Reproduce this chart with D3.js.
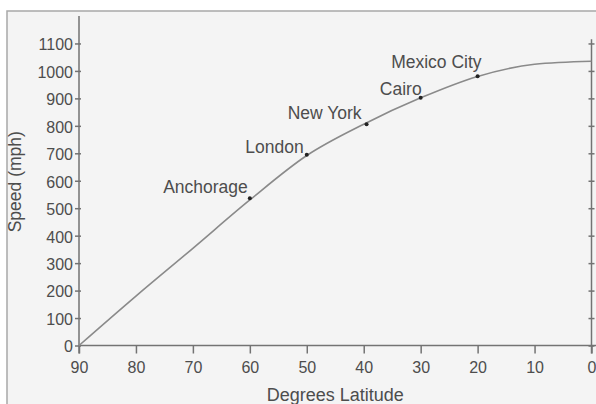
<!DOCTYPE html>
<html>
<head>
<meta charset="utf-8">
<script src="https://cdn.jsdelivr.net/npm/d3@7"></script>
<style>
  html, body { margin: 0; padding: 0; background: #ffffff; }
  svg { display: block; font-family: "Liberation Sans", Arial, sans-serif; }
</style>
</head>
<body>
<svg id="chart" width="596" height="404"></svg>
<script>
// ---- data ----
const curveLatitude = [90, 80, 70, 60, 50, 40, 30, 20, 10, 0];
const curveSpeed    = [0, 180, 354, 530, 692, 806, 902, 980, 1024, 1035];

const cityNames    = ["Anchorage", "London", "New York", "Cairo", "Mexico City"];
const cityLatitude = [60, 50, 39.5, 30, 20];
const citySpeed    = [536, 695, 806, 902, 981];

const xTickValues = [90, 80, 70, 60, 50, 40, 30, 20, 10, 0];
const yTickValues = [0, 100, 200, 300, 400, 500, 600, 700, 800, 900, 1000, 1100];

// label nudges (layout only)
const labelDx = [-2, -3, -5, 1, 4];
const labelDy = [-5, -2, -5, -3, -8];

// ---- layout ----
const svg = d3.select("#chart");
const W = 596, H = 404;
const mLeft = 79, mRight = 591.5, mTop = 16, mBottom = 345.5;
const textColor = "#4d4d4d", axisColor = "#737373";

// frame / background
svg.append("rect").attr("x", 7).attr("y", 11).attr("width", W).attr("height", H)
  .attr("fill", "#f4f4f4").attr("stroke", "#a8a8a8").attr("stroke-width", 1.5);

const x = d3.scaleLinear().domain([90, 0]).range([mLeft, mRight]);
const y = d3.scaleLinear().domain([0, 1200]).range([mBottom, mTop]);

// x axis
const xAxis = svg.append("g").attr("transform", `translate(0,${mBottom})`)
  .call(d3.axisBottom(x).tickValues(xTickValues).tickSizeOuter(0).tickSizeInner(8).tickPadding(8).tickFormat(d3.format("d")));
xAxis.select(".domain").attr("stroke", axisColor).attr("stroke-width", 1.5)
  .attr("d", `M${mLeft},0H${W}`);
xAxis.selectAll(".tick line").attr("stroke", axisColor).attr("stroke-width", 1.5);
xAxis.selectAll(".tick text").attr("fill", textColor).attr("font-size", 16)
  .attr("font-family", "Liberation Sans, Arial, sans-serif");

// left y axis
const yAxis = svg.append("g").attr("transform", `translate(${mLeft},0)`)
  .call(d3.axisLeft(y).tickValues(yTickValues).tickSizeOuter(0).tickSizeInner(4).tickPadding(2).tickFormat(d3.format("d")));
yAxis.select(".domain").attr("stroke", axisColor).attr("stroke-width", 1.5)
  .attr("d", `M0,${mTop}V${mBottom + 8}`);
yAxis.selectAll(".tick line").attr("stroke", axisColor).attr("stroke-width", 1.5).attr("x2", 2).attr("x1", -4);
yAxis.selectAll(".tick text").attr("fill", textColor).attr("font-size", 16)
  .attr("font-family", "Liberation Sans, Arial, sans-serif").attr("dy", "0.4em");

// right axis (ticks only)
const rAxis = svg.append("g").attr("transform", `translate(${mRight},0)`)
  .call(d3.axisRight(y).tickValues(yTickValues).tickSizeOuter(0).tickSizeInner(3).tickFormat(""));
rAxis.select(".domain").attr("stroke", axisColor).attr("stroke-width", 1.5)
  .attr("d", `M0,${y(1115)}V${mBottom + 8}`);
rAxis.selectAll(".tick line").attr("stroke", axisColor).attr("stroke-width", 1.5).attr("x1", -3).attr("x2", 3);

// axis titles
svg.append("text").attr("x", (mLeft + mRight) / 2).attr("y", 400.5)
  .attr("text-anchor", "middle").attr("font-size", 18).attr("fill", textColor)
  .text("Degrees Latitude");
svg.append("text").attr("transform", `translate(21,${(mTop + mBottom) / 2 + 1}) rotate(-90)`)
  .attr("text-anchor", "middle").attr("font-size", 17.5).attr("fill", textColor)
  .text("Speed (mph)");

// curve
const curveData = curveLatitude.map((d, i) => ({ lat: d, speed: curveSpeed[i] }));
const line = d3.line().x(d => x(d.lat)).y(d => y(d.speed)).curve(d3.curveMonotoneX);
svg.append("path").datum(curveData).attr("d", line)
  .attr("fill", "none").attr("stroke", "#8a8a8a").attr("stroke-width", 1.6);

// city points
const cities = cityNames.map((n, i) => ({ name: n, lat: cityLatitude[i], speed: citySpeed[i], dx: labelDx[i], dy: labelDy[i] }));
svg.append("g").selectAll("circle").data(cities).join("circle")
  .attr("cx", d => x(d.lat)).attr("cy", d => y(d.speed)).attr("r", 2)
  .attr("fill", "#222");
svg.append("g").selectAll("text").data(cities).join("text")
  .attr("x", d => x(d.lat) + d.dx).attr("y", d => y(d.speed) + d.dy)
  .attr("text-anchor", "end").attr("font-size", 17.5).attr("fill", textColor)
  .text(d => d.name);
</script>
</body>
</html>
